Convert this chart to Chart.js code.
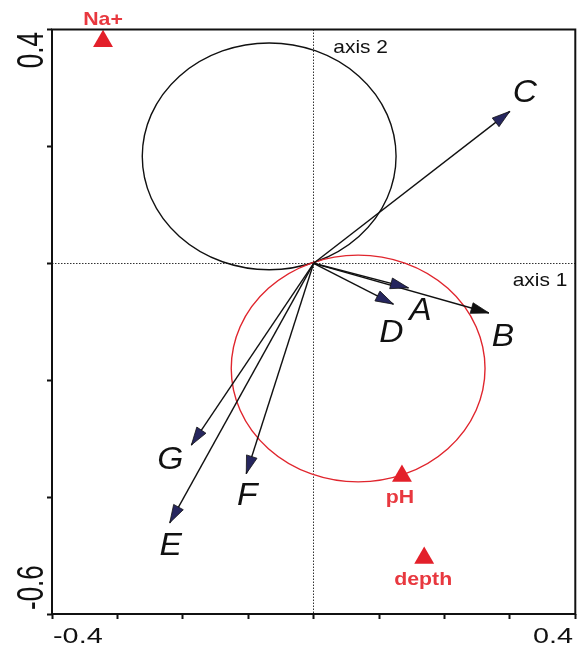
<!DOCTYPE html>
<html><head><meta charset="utf-8">
<script src="https://cdn.jsdelivr.net/npm/chart.js@4/dist/chart.umd.min.js"></script>
<style>html,body{margin:0;padding:0;background:#fff;overflow:hidden}canvas{display:block}</style>
</head><body><canvas id="c" width="580" height="649" style="width:580px;height:649px"></canvas>
<script>
// ---- data ----
const arrowNames = ['A', 'B', 'C', 'D', 'E', 'F', 'G'];
const arrowX = [0.145, 0.268, 0.300, 0.122, -0.220, -0.103, -0.187];
const arrowY = [-0.042, -0.085, 0.260, -0.070, -0.444, -0.360, -0.311];
const envNames = ['Na+', 'pH', 'depth'];
const envX = [-0.322, 0.135, 0.169];
const envY = [0.380, -0.364, -0.504];
const circleCX = [-0.068, 0.068];
const circleCY = [0.183, -0.180];
const circleR = [0.194, 0.194];
const xTickLabels = ['-0.4', '0.4'];
const yTickLabels = ['0.4', '-0.6'];
const axisNames = ['axis 1', 'axis 2'];

// ---- styles ----
const FONT = '"Liberation Sans", Arial, sans-serif';
const headColors = ['#26265e', '#111111', '#26265e', '#26265e', '#26265e', '#26265e', '#26265e'];
const arrowLabelOffsets = [[12, 32], [14, 33], [15, -9], [-2, 38], [1, 32], [1, 31], [-21, 24]];
const envLabelOffsets = [[0, -16], [-2, 26.5], [-1, 27]];
const circleColors = ['#111111', '#e0262e'];
const RED = '#e3202a';
const RED_TEXT = '#e8383f';

function drawText(ctx, text, x, y, font, color, align, sx, sy, rot) {
  ctx.save();
  ctx.translate(x, y);
  if (rot) ctx.rotate(rot);
  ctx.scale(sx || 1, sy || 1);
  ctx.font = font;
  ctx.fillStyle = color;
  ctx.textAlign = align || 'center';
  ctx.textBaseline = 'alphabetic';
  ctx.fillText(text, 0, 0);
  ctx.restore();
}

const datasets = arrowNames.map((n, i) => ({
  type: 'line', label: n,
  data: [{x: 0, y: 0}, {x: arrowX[i], y: arrowY[i]}],
  borderColor: '#111', borderWidth: 1.4, pointRadius: 0, pointHoverRadius: 0,
  fill: false, tension: 0
}));
datasets.push({
  type: 'scatter', label: 'env',
  data: envX.map((x, i) => ({x: x, y: envY[i]})),
  pointStyle: 'triangle', pointRadius: 11.5, pointHoverRadius: 11.5,
  backgroundColor: RED, borderColor: RED, borderWidth: 0
});

const biplot = {
  id: 'biplot',
  beforeDatasetsDraw(chart) {
    const {ctx, chartArea: a, scales: {x: xs, y: ys}} = chart;
    ctx.save();
    ctx.beginPath(); ctx.rect(a.left, a.top, a.right - a.left, a.bottom - a.top); ctx.clip();
    circleCX.forEach((cx, i) => {
      const px = xs.getPixelForValue(cx), py = ys.getPixelForValue(circleCY[i]);
      const rx = Math.abs(xs.getPixelForValue(cx + circleR[i]) - px);
      const ry = Math.abs(ys.getPixelForValue(circleCY[i] + circleR[i]) - py);
      ctx.beginPath(); ctx.ellipse(px, py, rx, ry, 0, 0, Math.PI * 2);
      ctx.strokeStyle = circleColors[i]; ctx.lineWidth = 1.4; ctx.stroke();
    });
    ctx.restore();
  },
  afterDatasetsDraw(chart) {
    const {ctx, chartArea: a, scales: {x: xs, y: ys}} = chart;
    arrowNames.forEach((n, i) => {
      const meta = chart.getDatasetMeta(i);
      const p0 = meta.data[0], p1 = meta.data[1];
      const ang = Math.atan2(p1.y - p0.y, p1.x - p0.x);
      const L = 18, W = 5.5;
      const bx = p1.x - L * Math.cos(ang), by = p1.y - L * Math.sin(ang);
      const nx = -Math.sin(ang), ny = Math.cos(ang);
      ctx.save();
      ctx.beginPath();
      ctx.moveTo(p1.x, p1.y);
      ctx.lineTo(bx + W * nx, by + W * ny);
      ctx.lineTo(bx - W * nx, by - W * ny);
      ctx.closePath();
      ctx.fillStyle = headColors[i]; ctx.fill();
      ctx.strokeStyle = '#111'; ctx.lineWidth = 0.8; ctx.stroke();
      ctx.restore();
      const o = arrowLabelOffsets[i];
      drawText(ctx, n, p1.x + o[0], p1.y + o[1], 'italic 32px ' + FONT, '#111', 'center', 1.05);
    });
    const em = chart.getDatasetMeta(arrowNames.length);
    envNames.forEach((n, i) => {
      const p = em.data[i];
      const o = envLabelOffsets[i];
      drawText(ctx, n, p.x + o[0], p.y + o[1], 'bold 19px ' + FONT, RED_TEXT, 'center', 1.12);
    });
    const ox = xs.getPixelForValue(0), oy = ys.getPixelForValue(0);
    drawText(ctx, axisNames[1], ox + 47, a.top + 23, '19px ' + FONT, '#111', 'center', 1.1);
    drawText(ctx, axisNames[0], a.right - 8, oy + 22.7, '19px ' + FONT, '#111', 'right', 1.1);
    ctx.save();
    ctx.strokeStyle = '#111'; ctx.lineWidth = 2;
    ctx.strokeRect(a.left, a.top, a.right - a.left, a.bottom - a.top);
    ctx.restore();
    drawText(ctx, xTickLabels[0], xs.getPixelForValue(xs.min) + 1, a.bottom + 29, '22px ' + FONT, '#111', 'left', 1.31);
    drawText(ctx, xTickLabels[1], xs.getPixelForValue(xs.max) - 2.3, a.bottom + 29, '22px ' + FONT, '#111', 'right', 1.31);
    drawText(ctx, yTickLabels[0], a.left - 9, ys.getPixelForValue(ys.max) + 2.5, '26px ' + FONT, '#111', 'right', 1, 1.4, -Math.PI / 2);
    drawText(ctx, yTickLabels[1], a.left - 9, ys.getPixelForValue(ys.min) - 4, '26px ' + FONT, '#111', 'left', 1, 1.4, -Math.PI / 2);
  }
};

const zeroColor = (c) => (c.tick && Math.abs(c.tick.value) < 1e-9) ? '#333' : 'rgba(0,0,0,0)';

new Chart(document.getElementById('c'), {
  type: 'scatter',
  data: {datasets: datasets},
  options: {
    responsive: false, maintainAspectRatio: false, animation: false, devicePixelRatio: 1,
    layout: {autoPadding: false, padding: {left: 0, right: 4.7, top: 29.5, bottom: 0}},
    plugins: {legend: {display: false}, tooltip: {enabled: false}},
    events: [],
    scales: {
      x: {
        type: 'linear', position: 'bottom', min: -0.4, max: 0.4,
        ticks: {display: false, stepSize: 0.1},
        grid: {display: true, drawOnChartArea: true, drawTicks: true, color: zeroColor, lineWidth: 1,
               tickLength: 5, tickColor: '#111', tickWidth: 2},
        border: {display: false, dash: [1.5, 1.5]},
        afterFit: (s) => { s.height = 35; }
      },
      y: {
        type: 'linear', position: 'left', min: -0.6, max: 0.4,
        ticks: {display: false, stepSize: 0.2},
        grid: {display: true, drawOnChartArea: true, drawTicks: true, color: zeroColor, lineWidth: 1,
               tickLength: 5, tickColor: '#111', tickWidth: 2},
        border: {display: false, dash: [1.5, 1.5]},
        afterFit: (s) => { s.width = 52; }
      }
    }
  },
  plugins: [biplot]
});
</script>
</body></html>
